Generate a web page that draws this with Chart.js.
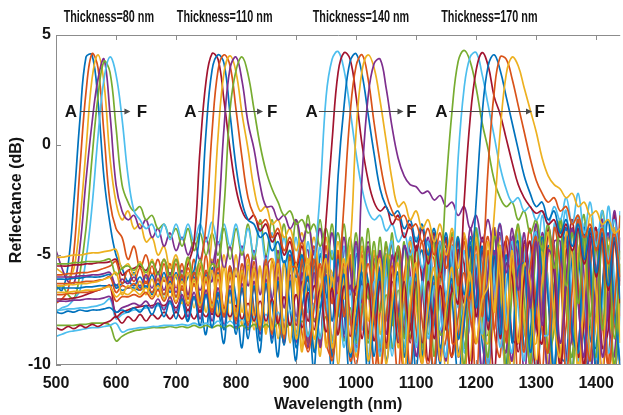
<!DOCTYPE html>
<html>
<head>
<meta charset="utf-8">
<script src="https://cdn.jsdelivr.net/npm/chart.js@4.4.1/dist/chart.umd.min.js"></script>
<style>
  html, body { margin: 0; padding: 0; background: #ffffff; }
  #wrap { width: 623px; height: 415px; }
</style>
</head>
<body>
<div id="wrap"><canvas id="c" width="623" height="415"></canvas></div>
<script>
// Sample grid (nm)
const wavelength = [
  500, 510, 520, 530, 540, 550, 560, 570, 580, 590,
  600, 610, 620, 630, 640, 650, 660, 670, 680, 690,
  700, 710, 720, 730, 740, 750, 760, 770, 780, 790,
  800, 810, 820, 830, 840, 850, 860, 870, 880, 890,
  900, 910, 920, 930, 940, 950, 960, 970, 980, 990,
  1000, 1010, 1020, 1030, 1040, 1050, 1060, 1070, 1080, 1090,
  1100, 1110, 1120, 1130, 1140, 1150, 1160, 1170, 1180, 1190,
  1200, 1210, 1220, 1230, 1240, 1250, 1260, 1270, 1280, 1290,
  1300, 1310, 1320, 1330, 1340, 1350, 1360, 1370, 1380, 1390,
  1400, 1410, 1420, 1430, 1440
];

// Reflectance (dB), thickness 80 nm, samples A..F
const a80 = [
  -6.4, -6.6, -5.5, -2.5, 1.2, 4.0, 4.1, 2.0, -1.5, -3.6,
  -5.0, -5.6, -6.2, -5.8, -6.5, -6.0, -6.8, -6.1, -7.0, -6.2,
  -6.0, -7.0, -8.0, -5.8, -7.0, -8.6, -5.6, -7.2, -9.0, -5.6,
  -7.0, -9.2, -5.5, -7.5, -9.4, -5.4, -7.2, -9.6, -5.3, -7.4,
  -9.8, -5.2, -7.0, -10.2, -5.0, -6.8, -10.4, -5.0, -7.5, -10.6,
  -5.0, -6.6, -10.5, -5.2, -5.8, -9.2, -8.0, -5.0, -7.4, -10.8,
  -6.0, -4.8, -7.5, -10.6, -6.2, -4.6, -7.0, -10.5, -7.8, -4.8,
  -5.6, -9.0, -10.2, -5.2, -4.8, -8.0, -10.6, -6.0, -4.6, -7.0,
  -10.4, -7.6, -4.6, -5.8, -9.6, -9.8, -5.0, -5.0, -8.8, -10.4,
  -6.0, -4.6, -7.2, -10.2, -7.8
];
const b80 = [
  -7.2, -7.0, -6.6, -4.8, -1.0, 2.4, 4.15, 3.5, 0.5, -2.6,
  -3.8, -4.2, -5.2, -4.6, -5.6, -5.0, -5.9, -5.2, -6.2, -5.4,
  -6.5, -5.4, -6.8, -5.2, -7.2, -5.0, -7.5, -5.2, -7.8, -5.6,
  -8.2, -6.0, -5.0, -7.6, -8.4, -5.6, -5.2, -8.0, -8.8, -5.4,
  -5.6, -8.6, -9.2, -5.2, -5.6, -9.0, -9.6, -5.0, -6.0, -9.8,
  -8.6, -4.8, -6.4, -10.2, -7.6, -4.6, -7.2, -10.4, -6.0, -4.8,
  -8.4, -10.0, -5.0, -5.2, -9.4, -8.8, -4.6, -6.0, -10.4, -7.0,
  -4.4, -7.2, -10.6, -5.8, -4.6, -8.6, -9.8, -4.8, -5.6, -10.2,
  -7.4, -4.4, -7.0, -10.6, -5.6, -4.6, -9.0, -9.2, -4.6, -6.4,
  -10.4, -6.6, -4.6, -8.0, -9.8
];
const c80 = [
  -5.6, -5.8, -6.0, -5.6, -3.4, -0.2, 3.0, 4.1, 2.8, -0.6,
  -2.6, -3.4, -3.0, -3.8, -3.6, -4.4, -4.2, -5.0, -4.6, -5.6,
  -5.0, -6.0, -5.2, -6.4, -5.4, -6.8, -5.2, -7.0, -5.0, -7.2,
  -5.0, -7.6, -5.2, -8.0, -5.6, -8.4, -5.2, -6.4, -9.0, -5.4,
  -6.2, -9.4, -5.4, -6.0, -9.6, -5.6, -5.8, -10.0, -6.0, -5.2,
  -9.6, -7.4, -4.8, -7.0, -10.2, -6.0, -4.6, -8.4, -9.6, -5.0,
  -5.4, -10.0, -7.6, -4.4, -6.4, -10.4, -6.6, -4.4, -8.2, -9.8,
  -5.0, -5.4, -10.2, -7.4, -4.2, -6.8, -10.6, -5.8, -4.6, -9.0,
  -9.0, -4.6, -6.2, -10.8, -6.4, -4.2, -8.0, -10.0, -5.0, -5.2,
  -10.0, -7.4, -4.2, -6.8, -10.6
];
const d80 = [
  -4.8, -5.6, -6.2, -6.3, -4.6, -1.6, 1.0, 3.0, 3.9, 1.4,
  -1.8, -3.0, -3.4, -3.2, -3.8, -3.4, -4.2, -3.8, -4.6, -4.0,
  -4.8, -4.2, -5.0, -4.4, -5.2, -4.2, -5.4, -4.4, -5.6, -4.6,
  -6.0, -4.6, -6.4, -4.8, -6.8, -5.0, -7.0, -4.8, -7.4, -5.0,
  -7.8, -5.2, -4.8, -8.0, -6.8, -4.6, -6.6, -8.6, -4.8, -5.6,
  -9.2, -6.8, -4.4, -6.8, -9.4, -5.4, -4.6, -8.4, -8.6, -4.4,
  -5.8, -9.6, -6.4, -4.2, -7.2, -9.8, -5.0, -4.8, -9.2, -8.0,
  -4.2, -6.4, -10.0, -6.4, -4.0, -7.6, -9.8, -4.6, -5.2, -9.8,
  -7.8, -4.0, -6.6, -10.2, -5.6, -4.2, -8.8, -9.2, -4.4, -5.8,
  -10.2, -6.8, -4.0, -7.4, -10.0
];
const e80 = [
  -6.6, -6.4, -6.8, -7.0, -5.8, -3.8, -0.6, 2.2, 3.8, 3.3,
  0.8, -1.8, -2.6, -3.0, -2.8, -3.4, -3.2, -3.8, -3.6, -4.2,
  -3.8, -4.6, -3.8, -4.8, -4.0, -5.0, -4.0, -5.0, -3.8, -5.2,
  -3.8, -5.0, -3.6, -5.2, -3.4, -5.0, -3.4, -5.2, -3.6, -5.6,
  -3.4, -5.2, -3.2, -5.6, -3.4, -5.8, -3.6, -6.2, -3.6, -6.6,
  -4.0, -7.0, -3.8, -7.4, -4.2, -8.0, -4.0, -8.4, -4.4, -8.8,
  -4.6, -9.2, -4.8, -9.6, -4.4, -8.4, -6.8, -4.2, -9.2, -6.0,
  -4.0, -8.6, -8.6, -3.8, -6.6, -10.0, -5.0, -3.8, -8.4, -9.2,
  -3.6, -5.6, -10.2, -6.2, -3.4, -7.6, -9.6, -4.0, -4.6, -9.8,
  -7.6, -3.0, -6.2, -10.2, -5.4
];
const f80 = [
  -7.6, -7.4, -7.3, -7.0, -6.6, -5.2, -2.8, 0.4, 3.0, 4.0,
  3.2, 1.2, -1.4, -3.0, -3.4, -3.8, -3.6, -4.2, -3.6, -4.3,
  -3.6, -4.3, -3.6, -4.4, -3.6, -4.4, -3.5, -4.5, -3.6, -4.6,
  -3.6, -4.8, -3.8, -5.0, -3.8, -5.4, -4.0, -5.8, -4.2, -6.2,
  -4.2, -6.6, -4.4, -7.0, -4.6, -7.4, -4.8, -7.8, -4.6, -8.2,
  -4.6, -8.4, -5.0, -5.8, -9.0, -5.6, -4.4, -8.8, -7.6, -4.2,
  -6.2, -9.8, -6.0, -4.0, -7.4, -9.6, -4.8, -4.6, -9.4, -7.8,
  -3.8, -6.0, -10.0, -5.6, -3.6, -7.8, -9.4, -4.0, -5.0, -10.0,
  -6.8, -3.2, -6.4, -10.0, -5.0, -3.0, -7.6, -9.8, -3.6, -4.8,
  -9.8, -7.4, -2.8, -6.0, -10.2
];

// Reflectance (dB), thickness 110 nm
const a110 = [
  -5.5, -5.5, -5.5, -5.45, -5.45, -5.4, -5.4, -5.35, -5.35, -5.3,
  -5.2, -5.9, -5.7, -5.6, -5.5, -5.7, -5.3, -5.8, -5.2, -5.9,
  -5.2, -6.0, -5.4, -4.4, -0.2, 2.9, 4.15, 3.9, 2.0, -0.2,
  -2.0, -3.0, -3.4, -3.2, -3.9, -3.6, -4.4, -4.0, -5.0, -4.4,
  -5.6, -4.6, -6.2, -4.8, -6.8, -5.0, -7.2, -5.0, -7.8, -5.2,
  -8.2, -5.2, -8.6, -5.0, -6.2, -9.2, -5.8, -4.8, -8.6, -8.4,
  -4.6, -6.2, -9.8, -6.4, -4.4, -7.8, -9.6, -4.8, -5.4, -10.2,
  -7.0, -4.2, -6.6, -10.4, -5.8, -4.4, -8.8, -9.0, -4.4, -6.2,
  -10.4, -6.4, -4.0, -7.6, -10.0, -4.8, -4.8, -9.6, -8.0, -3.8,
  -6.0, -10.4, -6.4, -3.8, -7.8
];
const b110 = [
  -6.1, -6.1, -6.1, -6.05, -6.05, -6.0, -6.0, -6.0, -5.95, -5.9,
  -6.5, -6.3, -6.2, -6.4, -6.0, -6.5, -5.9, -6.6, -5.8, -6.7,
  -5.8, -6.6, -6.0, -5.7, -3.8, 0.6, 3.4, 4.1, 3.7, 1.4,
  -1.0, -2.6, -3.4, -3.6, -4.2, -4.0, -4.8, -4.4, -5.4, -4.8,
  -6.0, -5.0, -6.6, -5.2, -7.4, -5.0, -8.0, -5.2, -8.6, -5.0,
  -9.0, -5.4, -6.2, -9.6, -6.0, -5.0, -9.2, -7.8, -4.6, -6.6,
  -10.2, -6.2, -4.4, -7.8, -10.0, -5.0, -4.8, -9.4, -8.2, -4.2,
  -6.2, -10.4, -6.2, -4.0, -7.4, -10.2, -5.0, -4.4, -9.2, -8.6,
  -4.0, -6.0, -10.6, -6.6, -3.8, -7.0, -10.2, -5.2, -4.0, -8.8,
  -9.2, -4.2, -5.6, -10.4, -7.2
];
const c110 = [
  -5.9, -5.9, -5.85, -5.85, -5.8, -5.8, -5.75, -5.7, -5.6, -5.5,
  -5.3, -6.3, -5.7, -6.2, -5.6, -6.3, -5.5, -6.4, -5.4, -6.5,
  -5.4, -6.6, -5.6, -6.4, -5.6, -3.6, 0.6, 3.4, 4.1, 3.6,
  1.6, -0.6, -2.4, -3.2, -3.6, -3.4, -4.2, -3.8, -4.8, -4.2,
  -5.4, -4.4, -6.0, -4.6, -6.6, -4.6, -7.2, -4.8, -7.8, -5.0,
  -8.4, -5.0, -8.8, -5.6, -5.0, -9.2, -7.4, -4.6, -6.6, -10.0,
  -6.4, -4.4, -7.4, -10.2, -5.2, -4.4, -9.0, -8.8, -4.2, -6.2,
  -10.6, -6.0, -4.2, -8.4, -9.6, -4.2, -5.6, -10.6, -6.2, -3.8,
  -7.4, -10.4, -4.8, -4.6, -9.8, -8.2, -3.8, -6.2, -10.6, -5.6,
  -3.8, -8.0, -10.0, -4.4, -5.2
];
const d110 = [
  -5.1, -5.1, -5.05, -5.0, -5.0, -4.95, -4.9, -4.9, -4.85, -4.8,
  -4.75, -5.6, -5.4, -5.9, -5.3, -6.0, -5.2, -6.1, -5.2, -6.2,
  -5.2, -6.3, -5.2, -6.4, -5.4, -6.2, -4.0, 0.4, 3.3, 4.05,
  3.3, 1.4, -0.2, -2.0, -3.0, -2.8, -3.6, -3.4, -4.2, -3.8,
  -4.8, -4.0, -5.4, -4.2, -6.0, -4.2, -6.6, -4.4, -7.0, -4.6,
  -7.6, -4.6, -8.0, -4.8, -8.6, -5.0, -5.4, -9.2, -6.6, -4.4,
  -7.2, -9.8, -4.8, -4.6, -9.4, -7.6, -4.0, -6.8, -10.4, -5.4,
  -4.0, -8.6, -9.0, -3.8, -6.0, -10.6, -5.8, -3.8, -8.0, -9.8,
  -4.4, -4.8, -10.2, -7.4, -3.6, -6.8, -10.6, -4.8, -4.2, -9.6,
  -8.0, -3.4, -6.4, -10.4, -5.4
];
const e110 = [
  -6.0, -6.0, -6.0, -6.0, -5.95, -5.95, -5.9, -5.9, -5.85, -5.8,
  -6.4, -6.1, -6.3, -6.0, -6.4, -5.9, -6.5, -5.8, -6.6, -5.8,
  -6.7, -5.7, -6.8, -5.8, -6.6, -5.8, -6.2, -3.6, 0.8, 3.5,
  4.0, 2.9, 1.0, -0.2, -1.8, -2.8, -2.8, -3.4, -3.2, -3.8,
  -3.4, -4.4, -3.6, -5.0, -3.8, -5.6, -4.0, -6.2, -4.2, -6.8,
  -4.4, -7.4, -4.6, -8.0, -4.8, -8.6, -5.0, -7.6, -4.6, -5.8,
  -9.6, -6.8, -4.2, -7.0, -9.8, -4.8, -4.8, -9.6, -7.6, -3.8,
  -6.4, -10.2, -5.6, -3.8, -8.0, -9.4, -4.2, -5.2, -10.4, -6.6,
  -3.6, -7.2, -10.2, -4.4, -4.4, -9.6, -8.6, -3.4, -6.0, -10.6,
  -6.2, -3.4, -7.8, -9.6, -4.2
];
const f110 = [
  -5.4, -5.4, -5.4, -5.35, -5.35, -5.3, -5.3, -5.3, -5.25, -5.2,
  -5.9, -5.6, -5.5, -5.7, -5.4, -5.8, -5.3, -5.9, -5.2, -6.0,
  -5.2, -6.1, -5.1, -6.2, -5.2, -6.2, -5.4, -5.6, -2.8, 1.6,
  3.4, 4.0, 3.2, 1.6, 0.0, -1.2, -2.0, -2.6, -3.2, -3.0,
  -3.6, -3.4, -4.0, -3.6, -4.6, -3.8, -5.2, -4.0, -5.8, -4.2,
  -6.4, -4.2, -7.0, -4.4, -7.6, -4.4, -8.2, -4.6, -8.8, -5.0,
  -6.6, -9.6, -5.2, -4.4, -8.6, -8.2, -4.0, -6.4, -10.0, -5.6,
  -3.8, -7.6, -9.6, -4.2, -5.0, -10.2, -6.6, -3.6, -7.0, -10.0,
  -4.6, -4.2, -9.4, -8.4, -3.4, -6.0, -10.4, -5.6, -3.2, -8.0,
  -9.6, -3.8, -4.8, -10.0, -7.0
];

// Reflectance (dB), thickness 140 nm
const a140 = [
  -7.5, -7.5, -7.45, -7.45, -7.4, -7.4, -7.35, -7.3, -7.2, -7.0,
  -7.9, -7.7, -7.6, -7.5, -7.5, -7.4, -7.4, -7.3, -7.4, -7.2,
  -7.5, -7.1, -7.6, -7.0, -7.6, -6.9, -7.7, -6.8, -7.8, -6.7,
  -7.9, -6.6, -8.0, -6.5, -8.0, -6.4, -8.1, -6.3, -8.0, -6.2,
  -8.0, -6.0, -7.6, -5.4, -2.2, 2.2, 3.9, 4.25, 3.4, 1.6,
  -0.4, -2.0, -3.0, -3.4, -3.2, -3.9, -3.6, -4.4, -4.0, -5.0,
  -4.2, -5.6, -4.4, -6.2, -4.4, -6.8, -4.6, -7.4, -4.8, -8.0,
  -5.0, -8.6, -5.0, -6.0, -9.2, -6.4, -4.4, -7.4, -9.8, -5.0,
  -4.0, -8.6, -8.6, -3.6, -5.6, -10.0, -6.2, -3.2, -7.2, -9.8,
  -4.0, -3.8, -9.4, -7.8, -3.0
];
const b140 = [
  -7.0, -7.0, -7.0, -6.95, -6.9, -6.8, -6.7, -6.6, -6.5, -6.4,
  -7.8, -7.6, -7.5, -7.4, -7.35, -7.3, -7.3, -7.2, -7.3, -7.1,
  -7.4, -7.0, -7.5, -6.9, -7.6, -6.8, -7.7, -6.8, -7.8, -6.7,
  -7.9, -6.6, -8.0, -6.5, -8.2, -6.4, -8.2, -6.3, -8.3, -6.2,
  -8.2, -6.2, -8.0, -6.4, -6.8, -3.4, 0.2, 3.3, 4.2, 3.9,
  2.2, 0.0, -1.6, -2.6, -3.0, -2.8, -3.6, -3.2, -4.2, -3.6,
  -4.8, -3.8, -5.4, -4.0, -6.0, -4.2, -6.6, -4.4, -7.2, -4.6,
  -7.8, -4.8, -8.4, -5.0, -8.8, -5.4, -6.0, -9.4, -6.0, -4.4,
  -8.2, -9.0, -3.8, -5.8, -10.2, -6.2, -3.4, -7.0, -10.0, -4.6,
  -3.8, -9.2, -8.4, -3.2, -6.4
];
const c140 = [
  -6.5, -6.5, -6.5, -6.5, -6.5, -6.45, -6.45, -6.4, -6.4, -6.4,
  -6.35, -6.6, -6.5, -6.5, -6.6, -6.4, -6.7, -6.3, -6.8, -6.2,
  -6.9, -6.1, -7.0, -6.0, -7.2, -5.9, -7.4, -5.8, -7.6, -5.8,
  -7.8, -5.7, -8.0, -5.6, -8.2, -5.6, -8.4, -5.5, -8.6, -5.4,
  -8.8, -5.4, -9.0, -5.5, -9.0, -5.6, -6.6, -1.4, 1.8, 3.8,
  4.15, 3.2, 1.4, -0.4, -2.0, -2.8, -3.2, -3.0, -3.8, -3.4,
  -4.4, -3.6, -5.0, -3.8, -5.6, -4.0, -6.2, -4.2, -6.8, -4.4,
  -7.4, -4.6, -8.0, -4.8, -8.6, -5.0, -9.0, -5.6, -5.4, -9.4,
  -7.0, -4.2, -7.0, -10.2, -5.4, -3.8, -8.4, -9.4, -3.8, -5.4,
  -10.4, -6.6, -3.4, -7.4, -10.0
];
const d140 = [
  -6.3, -6.3, -6.3, -6.25, -6.25, -6.2, -6.2, -6.15, -6.1, -6.0,
  -6.7, -6.4, -6.5, -6.3, -6.6, -6.2, -6.7, -6.1, -6.8, -6.0,
  -6.9, -5.9, -7.0, -5.8, -7.1, -5.7, -7.2, -5.6, -7.4, -5.5,
  -7.6, -5.4, -7.8, -5.3, -8.0, -5.2, -8.3, -5.2, -8.6, -5.1,
  -8.8, -5.2, -9.0, -5.2, -9.2, -5.4, -9.0, -6.6, -2.6, 1.4,
  3.6, 4.1, 3.0, 1.0, -0.8, -2.2, -3.0, -3.4, -3.2, -3.8,
  -3.6, -4.4, -3.8, -5.0, -4.0, -5.6, -4.2, -6.4, -4.4, -7.0,
  -4.6, -7.8, -4.8, -8.4, -5.0, -9.0, -5.2, -6.6, -9.4, -5.6,
  -4.2, -8.4, -9.4, -3.8, -5.6, -10.4, -6.6, -3.4, -7.8, -9.8,
  -4.0, -4.4, -10.2, -7.4, -3.2
];
const e140 = [
  -6.4, -6.4, -6.35, -6.35, -6.3, -6.3, -6.25, -6.2, -6.1, -6.0,
  -5.8, -6.8, -6.4, -6.6, -6.2, -6.8, -6.1, -6.9, -6.0, -7.0,
  -5.9, -7.2, -5.8, -7.4, -5.8, -7.6, -5.7, -7.8, -5.6, -8.0,
  -5.6, -8.2, -5.5, -8.4, -5.5, -8.6, -5.4, -8.8, -5.4, -9.0,
  -5.4, -9.2, -5.5, -9.4, -5.6, -9.2, -6.0, -8.6, -6.0, -4.6,
  0.6, 3.4, 4.1, 3.5, 2.0, 0.2, -1.6, -2.8, -2.6, -3.4,
  -3.0, -3.8, -3.4, -4.4, -3.6, -5.0, -3.8, -5.6, -4.0, -6.2,
  -4.2, -7.0, -4.4, -7.6, -4.6, -8.4, -4.8, -9.0, -5.4, -6.2,
  -9.8, -6.2, -4.0, -8.0, -9.6, -4.0, -5.0, -10.4, -6.8, -3.2,
  -6.8, -10.4, -5.0, -3.8, -9.0
];
const f140 = [
  -7.1, -7.1, -7.1, -7.05, -7.05, -7.0, -7.0, -7.0, -6.95, -6.9,
  -7.6, -7.4, -7.3, -7.2, -7.3, -7.1, -7.4, -7.0, -7.5, -6.9,
  -7.6, -6.8, -7.8, -6.7, -7.9, -6.6, -8.0, -6.5, -8.2, -6.4,
  -8.3, -6.3, -8.4, -6.2, -8.6, -6.1, -8.8, -6.0, -9.0, -5.9,
  -9.0, -5.8, -9.2, -5.8, -9.2, -5.9, -9.0, -6.0, -8.8, -6.4,
  -6.8, -1.4, 2.2, 3.7, 3.9, 2.6, 0.8, -0.6, -1.4, -1.8,
  -1.9, -2.2, -2.1, -2.5, -2.3, -2.8, -2.6, -3.2, -2.8, -3.8,
  -3.2, -4.4, -3.4, -5.0, -3.6, -5.8, -3.8, -6.6, -4.0, -7.4,
  -4.4, -8.2, -4.8, -5.4, -9.0, -6.2, -3.8, -7.2, -9.6, -4.2,
  -4.4, -9.6, -7.4, -3.0, -6.2
];

// Reflectance (dB), thickness 170 nm
const a170 = [
  -8.2, -8.2, -8.2, -8.2, -8.15, -8.15, -8.1, -8.1, -8.1, -8.2,
  -8.9, -8.7, -8.55, -8.45, -8.4, -8.35, -8.3, -8.3, -8.3, -8.25,
  -8.3, -8.25, -8.3, -8.2, -8.3, -8.2, -8.3, -8.2, -8.3, -8.2,
  -8.35, -8.2, -8.35, -8.15, -8.4, -8.15, -8.4, -8.1, -8.4, -8.1,
  -8.5, -8.0, -8.6, -7.9, -8.7, -7.8, -8.8, -7.6, -8.9, -7.4,
  -9.0, -7.2, -9.0, -7.0, -9.2, -6.8, -9.2, -6.6, -9.2, -6.4,
  -9.0, -6.4, -8.6, -6.4, -5.8, -1.8, 1.6, 3.8, 4.3, 3.8,
  2.6, 1.0, -0.2, -1.6, -2.4, -2.8, -2.6, -3.4, -3.0, -4.0,
  -3.4, -4.8, -3.6, -5.6, -3.8, -6.4, -4.0, -7.2, -4.2, -7.8,
  -4.4, -8.4, -4.6, -8.8, -4.8
];
const b170 = [
  -8.7, -8.6, -8.5, -8.45, -8.4, -8.35, -8.3, -8.3, -8.25, -8.2,
  -8.1, -8.5, -8.4, -8.35, -8.3, -8.3, -8.25, -8.25, -8.2, -8.2,
  -8.2, -8.15, -8.2, -8.1, -8.2, -8.1, -8.2, -8.0, -8.2, -8.0,
  -8.2, -7.9, -8.2, -7.8, -8.3, -7.7, -8.4, -7.6, -8.5, -7.5,
  -8.6, -7.4, -8.7, -7.2, -8.8, -7.0, -9.0, -6.8, -9.2, -6.6,
  -9.4, -6.4, -9.6, -6.2, -9.6, -6.0, -9.6, -6.0, -9.4, -6.0,
  -9.2, -6.2, -8.8, -6.4, -8.4, -6.8, -6.0, -0.6, 2.6, 4.0,
  4.2, 3.2, 1.8, 0.4, -1.0, -2.0, -2.6, -2.4, -3.0, -2.8,
  -3.4, -3.0, -3.6, -2.8, -3.4, -2.4, -3.6, -2.2, -4.0, -2.6,
  -4.6, -3.0, -5.2, -3.4, -5.8
];
const c170 = [
  -8.3, -8.4, -8.25, -8.35, -8.2, -8.3, -8.15, -8.25, -8.1, -8.0,
  -7.8, -8.1, -7.8, -8.0, -7.7, -8.0, -7.7, -7.9, -7.6, -7.9,
  -7.6, -7.9, -7.5, -7.9, -7.5, -7.8, -7.4, -7.8, -7.4, -7.8,
  -7.3, -7.9, -7.2, -8.0, -7.1, -8.0, -7.0, -8.1, -6.9, -8.2,
  -6.8, -8.3, -6.7, -8.4, -6.6, -8.5, -6.5, -8.6, -6.4, -8.7,
  -6.4, -8.8, -6.3, -8.9, -6.2, -9.0, -6.2, -9.0, -6.2, -9.0,
  -6.2, -9.0, -6.2, -8.8, -6.4, -8.4, -6.6, -7.2, -2.6, 1.2,
  3.4, 4.2, 3.6, 2.2, 1.4, 0.3, -0.8, -1.8, -2.4, -2.8,
  -3.1, -3.0, -3.6, -3.4, -4.2, -3.6, -4.8, -3.8, -5.4, -4.0,
  -6.0, -4.2, -6.6, -4.4, -7.2
];
const d170 = [
  -7.6, -7.65, -7.55, -7.6, -7.5, -7.55, -7.5, -7.5, -7.45, -7.4,
  -7.6, -7.5, -7.6, -7.4, -7.6, -7.3, -7.7, -7.2, -7.8, -7.1,
  -7.9, -7.0, -8.0, -6.9, -8.2, -6.8, -8.3, -6.7, -8.4, -6.6,
  -8.6, -6.5, -8.8, -6.4, -8.9, -6.3, -9.0, -6.2, -9.1, -6.2,
  -9.2, -7.4, -6.0, -9.4, -7.6, -6.0, -9.6, -7.6, -5.9, -9.6,
  -7.8, -5.8, -9.8, -7.8, -5.8, -9.8, -7.8, -5.8, -9.6, -7.8,
  -5.9, -9.5, -7.8, -6.0, -9.2, -7.6, -6.1, -8.8, -7.4, -6.6,
  -2.6, 1.4, 3.6, 4.1, 3.4, 2.2, 1.0, -0.2, -1.4, -2.2,
  -2.8, -2.6, -3.4, -3.0, -4.0, -3.4, -4.6, -3.6, -5.2, -3.8,
  -5.8, -4.0, -6.4, -4.2, -7.0
];
const e170 = [
  -6.8, -6.8, -6.75, -6.75, -6.7, -6.7, -6.65, -6.6, -6.5, -6.4,
  -7.1, -6.9, -6.9, -6.8, -6.9, -6.7, -7.0, -6.6, -7.1, -6.5,
  -7.2, -6.4, -7.3, -6.3, -7.4, -6.2, -7.6, -6.1, -7.8, -6.0,
  -8.0, -5.9, -8.2, -5.8, -8.4, -5.7, -8.6, -5.6, -8.8, -5.6,
  -5.6, -7.4, -9.4, -7.4, -5.4, -7.6, -9.8, -7.4, -5.4, -7.8,
  -10.0, -7.6, -5.4, -7.8, -10.2, -7.8, -5.5, -8.0, -10.2, -7.8,
  -5.6, -8.0, -10.0, -7.8, -5.8, -8.0, -9.6, -7.8, -5.8, -7.8,
  -9.0, -6.2, -1.0, 2.4, 4.0, 3.9, 3.0, 1.8, 0.6, -0.6,
  -1.6, -2.2, -2.6, -2.4, -3.0, -2.8, -3.6, -3.2, -4.2, -3.6,
  -4.8, -3.8, -5.4, -4.0, -6.0
];
const f170 = [
  -6.7, -6.7, -6.7, -6.65, -6.65, -6.6, -6.6, -6.55, -6.5, -6.45,
  -6.9, -6.7, -6.8, -6.6, -6.8, -6.5, -6.9, -6.4, -7.0, -6.3,
  -7.1, -6.2, -7.2, -6.1, -7.3, -6.0, -7.4, -5.9, -7.6, -5.8,
  -7.8, -5.7, -8.0, -5.6, -8.2, -5.5, -8.4, -5.4, -8.6, -5.3,
  -8.8, -6.6, -5.2, -8.8, -6.8, -5.2, -9.2, -7.0, -5.2, -9.4,
  -7.0, -5.2, -9.8, -7.2, -5.2, -10.0, -7.2, -5.4, -10.2, -7.2,
  -5.4, -10.0, -7.4, -5.6, -9.8, -7.4, -5.6, -9.6, -7.4, -5.8,
  -9.0, -7.0, -6.4, -3.2, 0.6, 3.2, 4.0, 3.6, 2.6, 1.6,
  0.6, -0.6, -1.4, -1.8, -2.0, -2.4, -2.2, -2.8, -2.6, -3.2,
  -3.0, -3.6, -3.4, -4.0, -3.8
];

// Axis ticks
const xTicks = [500, 600, 700, 800, 900, 1000, 1100, 1200, 1300, 1400];
const yTicks = [-10, -5, 0, 5];

// Group captions and the A -> F arrows (positions in nm / dB)
const groupTitles = ['Thickness=80 nm', 'Thickness=110 nm', 'Thickness=140 nm', 'Thickness=170 nm'];
const groupTitleAt = [588, 781, 1008, 1222];
const letterA = [525, 724, 926, 1142];
const arrowStart = [540, 737, 938, 1155];
const arrowEnd = [624, 845, 1079, 1293];
const letterF = [643, 860, 1092, 1306];
const arrowLevel = 1.55;

const series = [a80, b80, c80, d80, e80, f80,
                a110, b110, c110, d110, e110, f110,
                a140, b140, c140, d140, e140, f140,
                a170, b170, c170, d170, e170, f170];

const lineColors = ['#0072BD', '#D95319', '#EDB120', '#7E2F8E', '#77AC30', '#4DBEEE', '#A2142F'];
const FONT = "'Liberation Sans', Arial, Helvetica, sans-serif";
const AXIS = '#8c8c8c';
const INK = '#141414';

const datasets = series.map((ys, i) => ({
  data: ys.map((y, k) => ({ x: wavelength[k], y: y })),
  borderColor: lineColors[i % lineColors.length],
  borderWidth: 1.7,
  pointRadius: 0,
  tension: 0.4,
  fill: false,
  clip: 0,
  order: series.length - i   // later curves drawn on top
}));

// Box, inward tick marks, captions and A->F arrows
const decorations = {
  id: 'decorations',
  afterDatasetsDraw(chart) {
    const { ctx, chartArea: a, scales: { x, y } } = chart;
    ctx.save();
    ctx.strokeStyle = AXIS;
    ctx.lineWidth = 1;
    ctx.beginPath();
    ctx.moveTo(a.right, a.top + 0.5);
    ctx.lineTo(a.left + 0.5, a.top + 0.5);
    ctx.lineTo(a.left + 0.5, a.bottom - 0.5);
    ctx.lineTo(a.right, a.bottom - 0.5);
    const tl = 5;
    xTicks.forEach(v => {
      const px = Math.round(x.getPixelForValue(v)) + 0.5;
      ctx.moveTo(px, a.bottom); ctx.lineTo(px, a.bottom - tl);
      ctx.moveTo(px, a.top); ctx.lineTo(px, a.top + tl);
    });
    yTicks.forEach(v => {
      const py = Math.round(y.getPixelForValue(v)) + 0.5;
      ctx.moveTo(a.left, py); ctx.lineTo(a.left + tl, py);
    });
    ctx.stroke();

    // captions above the plot
    ctx.fillStyle = INK;
    ctx.textAlign = 'center';
    ctx.textBaseline = 'middle';
    ctx.font = 'bold 16px ' + FONT;
    groupTitles.forEach((t, i) => {
      const cx = x.getPixelForValue(groupTitleAt[i]);
      ctx.save();
      ctx.translate(cx, a.top - 17);
      ctx.scale(0.675, 1);
      ctx.fillText(t, 0, 0);
      ctx.restore();
    });

    // A -> F arrows
    const ay = y.getPixelForValue(arrowLevel);
    ctx.strokeStyle = '#4a4a4a';
    ctx.fillStyle = '#4a4a4a';
    ctx.lineWidth = 1;
    letterA.forEach((_, i) => {
      const x0 = x.getPixelForValue(arrowStart[i]);
      const x1 = x.getPixelForValue(arrowEnd[i]);
      ctx.beginPath();
      ctx.moveTo(x0, Math.round(ay) + 0.5);
      ctx.lineTo(x1 - 4, Math.round(ay) + 0.5);
      ctx.stroke();
      ctx.beginPath();
      ctx.moveTo(x1, Math.round(ay) + 0.5);
      ctx.lineTo(x1 - 6, Math.round(ay) - 2.5);
      ctx.lineTo(x1 - 6, Math.round(ay) + 3.5);
      ctx.closePath();
      ctx.fill();
    });
    ctx.fillStyle = INK;
    ctx.font = 'bold 17px ' + FONT;
    letterA.forEach((v, i) => {
      ctx.fillText('A', x.getPixelForValue(v), ay + 1);
      ctx.fillText('F', x.getPixelForValue(letterF[i]), ay + 1);
    });
    ctx.restore();
  }
};

new Chart(document.getElementById('c'), {
  type: 'line',
  data: { datasets },
  options: {
    responsive: false,
    animation: false,
    devicePixelRatio: 1,
    events: [],
    layout: { padding: { top: 35, right: 0, bottom: 0, left: 0 } },
    plugins: { legend: { display: false }, tooltip: { enabled: false } },
    scales: {
      x: {
        type: 'linear',
        min: 500,
        max: 1440,
        grid: { display: false, drawTicks: false },
        border: { display: false },
        afterBuildTicks: s => { s.ticks = xTicks.map(v => ({ value: v })); },
        afterFit: s => { s.height = 50; },
        ticks: {
          font: { family: FONT, size: 16, weight: 'bold' },
          color: INK, padding: 9, maxRotation: 0, autoSkip: false,
          callback: v => String(v)
        },
        title: {
          display: true, text: 'Wavelength (nm)', color: INK,
          font: { family: FONT, size: 16, weight: 'bold' },
          padding: { top: 0, bottom: 1 }
        }
      },
      y: {
        min: -10,
        max: 5,
        grid: { display: false, drawTicks: false },
        border: { display: false },
        afterBuildTicks: s => { s.ticks = yTicks.map(v => ({ value: v })); },
        afterFit: s => { s.width = 56; },
        ticks: {
          font: { family: FONT, size: 16, weight: 'bold' },
          color: INK, padding: 5,
          callback: v => String(v)
        },
        title: {
          display: true, text: 'Reflectance (dB)', color: INK,
          font: { family: FONT, size: 16, weight: 'bold' },
          padding: { top: 7, bottom: 0 }
        }
      }
    }
  },
  plugins: [decorations]
});
</script>
</body>
</html>
